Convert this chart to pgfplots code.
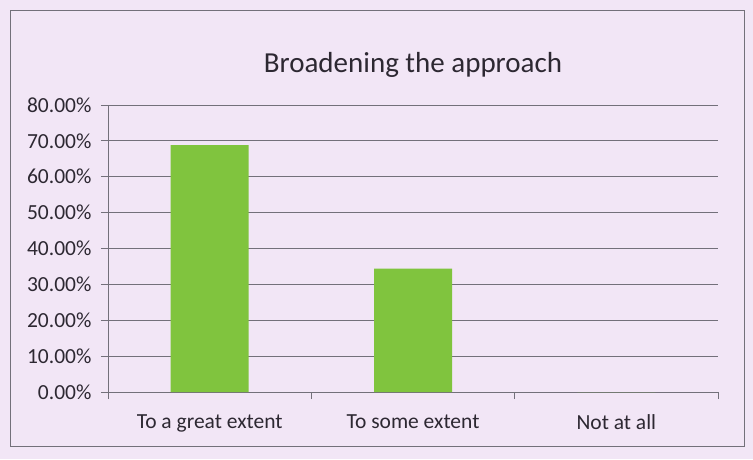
\documentclass[border=0pt]{standalone}
\usepackage{pgfplots}
\pgfplotsset{compat=1.18}
\usepackage{fontspec}
\setmainfont{Carlito}
\definecolor{bg}{RGB}{242,230,246}
\definecolor{bargreen}{RGB}{128,196,62}
\definecolor{gridc}{RGB}{115,112,122}
\definecolor{txt}{RGB}{45,40,50}

\begin{document}
\begin{tikzpicture}
\fill[bg] (-108pt,-67pt) rectangle (645pt,392pt);
\draw[gridc, line width=1pt] (-97pt,-54pt) rectangle (636pt,381pt);
\begin{axis}[
  at={(0,0)}, anchor=south west,
  scale only axis,
  width=610pt, height=287pt,
  ybar, bar width=78pt,
  ymin=0, ymax=80,
  xmin=-0.5, xmax=2.5,
  ytick={0,10,...,80},
  xtick={-0.5,0.5,1.5,2.5},
  xticklabels={},
  extra x ticks={0,1,2},
  extra x tick labels={To a great extent, To some extent, Not at all},
  extra x tick style={major tick length=0pt, grid=none},
  axis x line*=bottom,
  axis y line*=left,
  axis line style={draw=gridc, line width=0.8pt, -},
  xtick pos=bottom, ytick pos=left,
  tick align=outside,
  major tick length=7pt,
  tick style={draw=gridc, line width=0.8pt},
  ymajorgrids=true,
  grid style={draw=gridc, line width=0.8pt},
  /pgf/number format/assume math mode=true,
  yticklabel={\pgfmathprintnumber[fixed,fixed zerofill,precision=2]{\tick}\%},
  tick label style={font=\fontsize{21.5}{25}\selectfont, text=txt},
  yticklabel style={xshift=-6pt},
  xticklabel style={yshift=-19pt},
  title={Broadening the approach},
  title style={font=\fontsize{29}{33}\selectfont, text=txt, yshift=18pt},
]
\addplot[fill=bargreen, draw=none] coordinates {(0,68.8) (1,34.4) (2,0)};
\end{axis}
\end{tikzpicture}
\end{document}
